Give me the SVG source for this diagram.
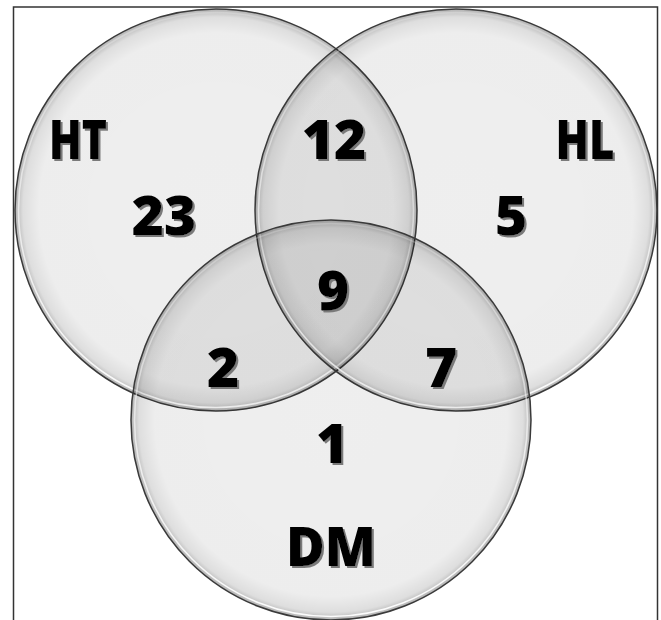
<svg xmlns="http://www.w3.org/2000/svg" width="661" height="620" viewBox="0 0 661 620">
  <defs>
    <radialGradient id="rim" cx="0.5" cy="0.5" r="0.5">
      <stop offset="0" stop-color="#000" stop-opacity="0.065"/>
      <stop offset="0.88" stop-color="#000" stop-opacity="0.07"/>
      <stop offset="0.96" stop-color="#000" stop-opacity="0.13"/>
      <stop offset="1" stop-color="#000" stop-opacity="0.3"/>
    </radialGradient>
    <linearGradient id="hl" x1="0" y1="0" x2="0" y2="1">
      <stop offset="0" stop-color="#fff" stop-opacity="0.2"/>
      <stop offset="0.5" stop-color="#fff" stop-opacity="0.6"/>
      <stop offset="1" stop-color="#fff" stop-opacity="0.95"/>
    </linearGradient>
    <filter id="shadow" x="-20%" y="-20%" width="140%" height="140%">
      <feDropShadow dx="2" dy="2" stdDeviation="0.6" flood-color="#7a7a7a" flood-opacity="1"/>
    </filter>
  </defs>
  <style>
    .set { fill: url(#rim); stroke: #3a3a3a; stroke-width: 1.5; }
    .shine { fill: none; stroke: url(#hl); stroke-width: 1.6; }
    .lbl { font-family: "Open Sans", "Liberation Sans", sans-serif; font-weight: 800; font-size: 55px; fill: #000; text-anchor: middle; filter: url(#shadow); }
  </style>
  <rect x="0" y="0" width="661" height="620" fill="#fff"/>
  <rect x="13.5" y="7" width="644" height="640" fill="#fff" stroke="#333" stroke-width="1.5"/>

  <g id="HT">
    <circle class="set" cx="216" cy="210" r="201"/>
    <circle class="shine" cx="216" cy="210" r="197.5"/>
  </g>
  <g id="HL">
    <circle class="set" cx="456" cy="210" r="201"/>
    <circle class="shine" cx="456" cy="210" r="197.5"/>
  </g>
  <g id="DM">
    <circle class="set" cx="331" cy="420" r="200"/>
    <circle class="shine" cx="331" cy="420" r="196.5"/>
  </g>

  <g id="labels">
    <text class="lbl" x="78" y="159" textLength="58" lengthAdjust="spacingAndGlyphs">HT</text>
    <text class="lbl" x="585" y="159" textLength="59" lengthAdjust="spacingAndGlyphs">HL</text>
    <text class="lbl" x="331" y="566" textLength="90" lengthAdjust="spacingAndGlyphs">DM</text>
  </g>
  <g id="counts">
    <text class="lbl" x="334" y="159">12</text>
    <text class="lbl" x="164" y="235">23</text>
    <text class="lbl" x="511" y="235">5</text>
    <text class="lbl" x="333" y="310">9</text>
    <text class="lbl" x="223" y="387">2</text>
    <text class="lbl" x="441" y="387">7</text>
    <text class="lbl" x="332" y="463">1</text>
  </g>
</svg>
